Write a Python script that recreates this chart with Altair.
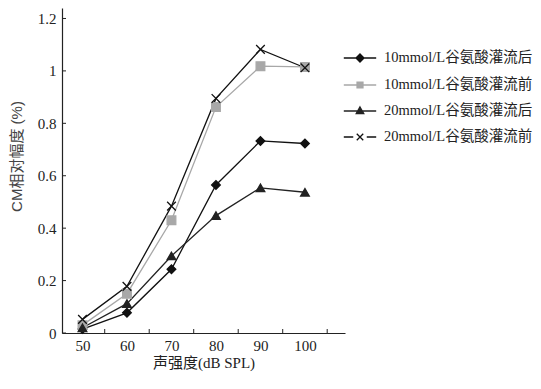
import altair as alt
import pandas as pd

# ---- data ----
intensity = [50, 60, 70, 80, 90, 100]
series_names = ["10mmol/L谷氨酸灌流后", "10mmol/L谷氨酸灌流前",
                "20mmol/L谷氨酸灌流后", "20mmol/L谷氨酸灌流前"]
s10_after = [0.015, 0.077, 0.243, 0.565, 0.733, 0.723]
s10_before = [0.03, 0.150, 0.430, 0.862, 1.018, 1.015]
s20_after = [0.02, 0.112, 0.294, 0.448, 0.554, 0.537]
s20_before = [0.052, 0.178, 0.484, 0.895, 1.082, 1.012]
y_ticks = [0, 0.2, 0.4, 0.6, 0.8, 1.0, 1.2]
x_labels = [50, 60, 70, 80, 90, 100]
x_tick_marks = [55, 65, 75, 85, 95, 105]

colors = ["#111111", "#a8a8a8", "#222222", "#111111"]
plot_shapes = ["diamond", "square", "triangle-up", "M-1,-1L1,1M1,-1L-1,1"]
legend_shapes = [
    "M-1.2,0H1.2M0,-0.3L0.3,0L0,0.3L-0.3,0Z",
    "M-1.2,0H1.2M-0.22,-0.22H0.22V0.22H-0.22Z",
    "M-1.2,0H1.2M0,-0.3L0.28,0.2H-0.28Z",
    "M-1.2,0H-0.5M0.5,0H1.2M-0.24,-0.24L0.24,0.24M0.24,-0.24L-0.24,0.24",
]

rows = []
for name, vals in zip(series_names, [s10_after, s10_before, s20_after, s20_before]):
    for x, v in zip(intensity, vals):
        rows.append({"x": x, "y": v, "series": name, "label": name})
df = pd.DataFrame(rows)

W, H = 283, 325
serif = "Liberation Serif, Noto Sans CJK SC"

xscale = alt.Scale(domain=[45.4, 109], nice=False, zero=False)
yscale = alt.Scale(domain=[0, 1.24], nice=False)

base = alt.Chart(df)

x_enc = alt.X("x:Q", scale=xscale,
              axis=alt.Axis(values=x_labels, format="d", ticks=False, grid=False,
                            title="声强度(dB SPL)", titleFont=serif, titleFontSize=15,
                            titleFontWeight="normal", titleColor="#222", titlePadding=2,
                            labelFont=serif, labelFontSize=15, labelColor="#222",
                            labelPadding=5, domainColor="#222", domainWidth=1.2))
y_enc = alt.Y("y:Q", scale=yscale,
              axis=alt.Axis(values=y_ticks, format="~g", ticks=False, grid=False,
                            title="CM相对幅度 (%)",
                            titleFont="Liberation Sans, Noto Sans CJK SC",
                            titleFontSize=15, titleFontWeight="normal", titleColor="#444",
                            titlePadding=13, titleY=148,
                            labelFont=serif, labelFontSize=15, labelColor="#222",
                            labelPadding=6, domainColor="#222", domainWidth=1.2))

color_scale = alt.Scale(domain=series_names, range=colors)

lines = base.mark_line(strokeWidth=1.3).encode(
    x=x_enc, y=y_enc,
    color=alt.Color("series:N", scale=color_scale, legend=None),
)

points = base.mark_point(filled=True, size=75, strokeWidth=1.3, opacity=1).encode(
    x="x:Q", y="y:Q",
    color=alt.Color("series:N", scale=color_scale, legend=None),
    stroke=alt.Stroke("series:N", scale=color_scale, legend=None),
    shape=alt.Shape("series:N", scale=alt.Scale(domain=series_names, range=plot_shapes),
                    legend=None),
)

xt = alt.Chart(pd.DataFrame({"t": x_tick_marks})).mark_rule(color="#222", strokeWidth=1).encode(
    x=alt.X("t:Q", scale=xscale), y=alt.value(H), y2=alt.value(H - 4))
yt = alt.Chart(pd.DataFrame({"t": y_ticks})).mark_rule(color="#222", strokeWidth=1).encode(
    y=alt.Y("t:Q", scale=yscale), x=alt.value(0), x2=alt.value(4))

leg = alt.Legend(orient="none", legendX=283.5, legendY=35.5, title=None,
                 symbolSize=729, rowPadding=5, padding=0,
                 labelOffset=9.5, labelFont=serif, labelFontSize=14.5,
                 labelColor="#222", labelLimit=300,
                 symbolStrokeWidth=1.3, symbolOpacity=1)
legend_layer = alt.Chart(df).transform_filter("false").mark_point(
    filled=True, size=729, strokeWidth=1.3).encode(
    color=alt.Color("label:N", scale=alt.Scale(domain=series_names, range=colors), legend=leg),
    stroke=alt.Stroke("label:N", scale=alt.Scale(domain=series_names, range=colors), legend=leg),
    shape=alt.Shape("label:N", scale=alt.Scale(domain=series_names, range=legend_shapes),
                    legend=leg),
)

chart = alt.layer(lines, xt, yt, points, legend_layer).resolve_scale(
    shape="independent", color="independent", stroke="independent"
).properties(
    width=W, height=H,
    autosize=alt.AutoSizeParams(type="none"),
    padding={"left": 54, "top": 0, "right": 188, "bottom": 48},
    background="white",
).configure_view(stroke=None)

chart.save("out.html", embed_options={"renderer": "svg", "actions": False})
